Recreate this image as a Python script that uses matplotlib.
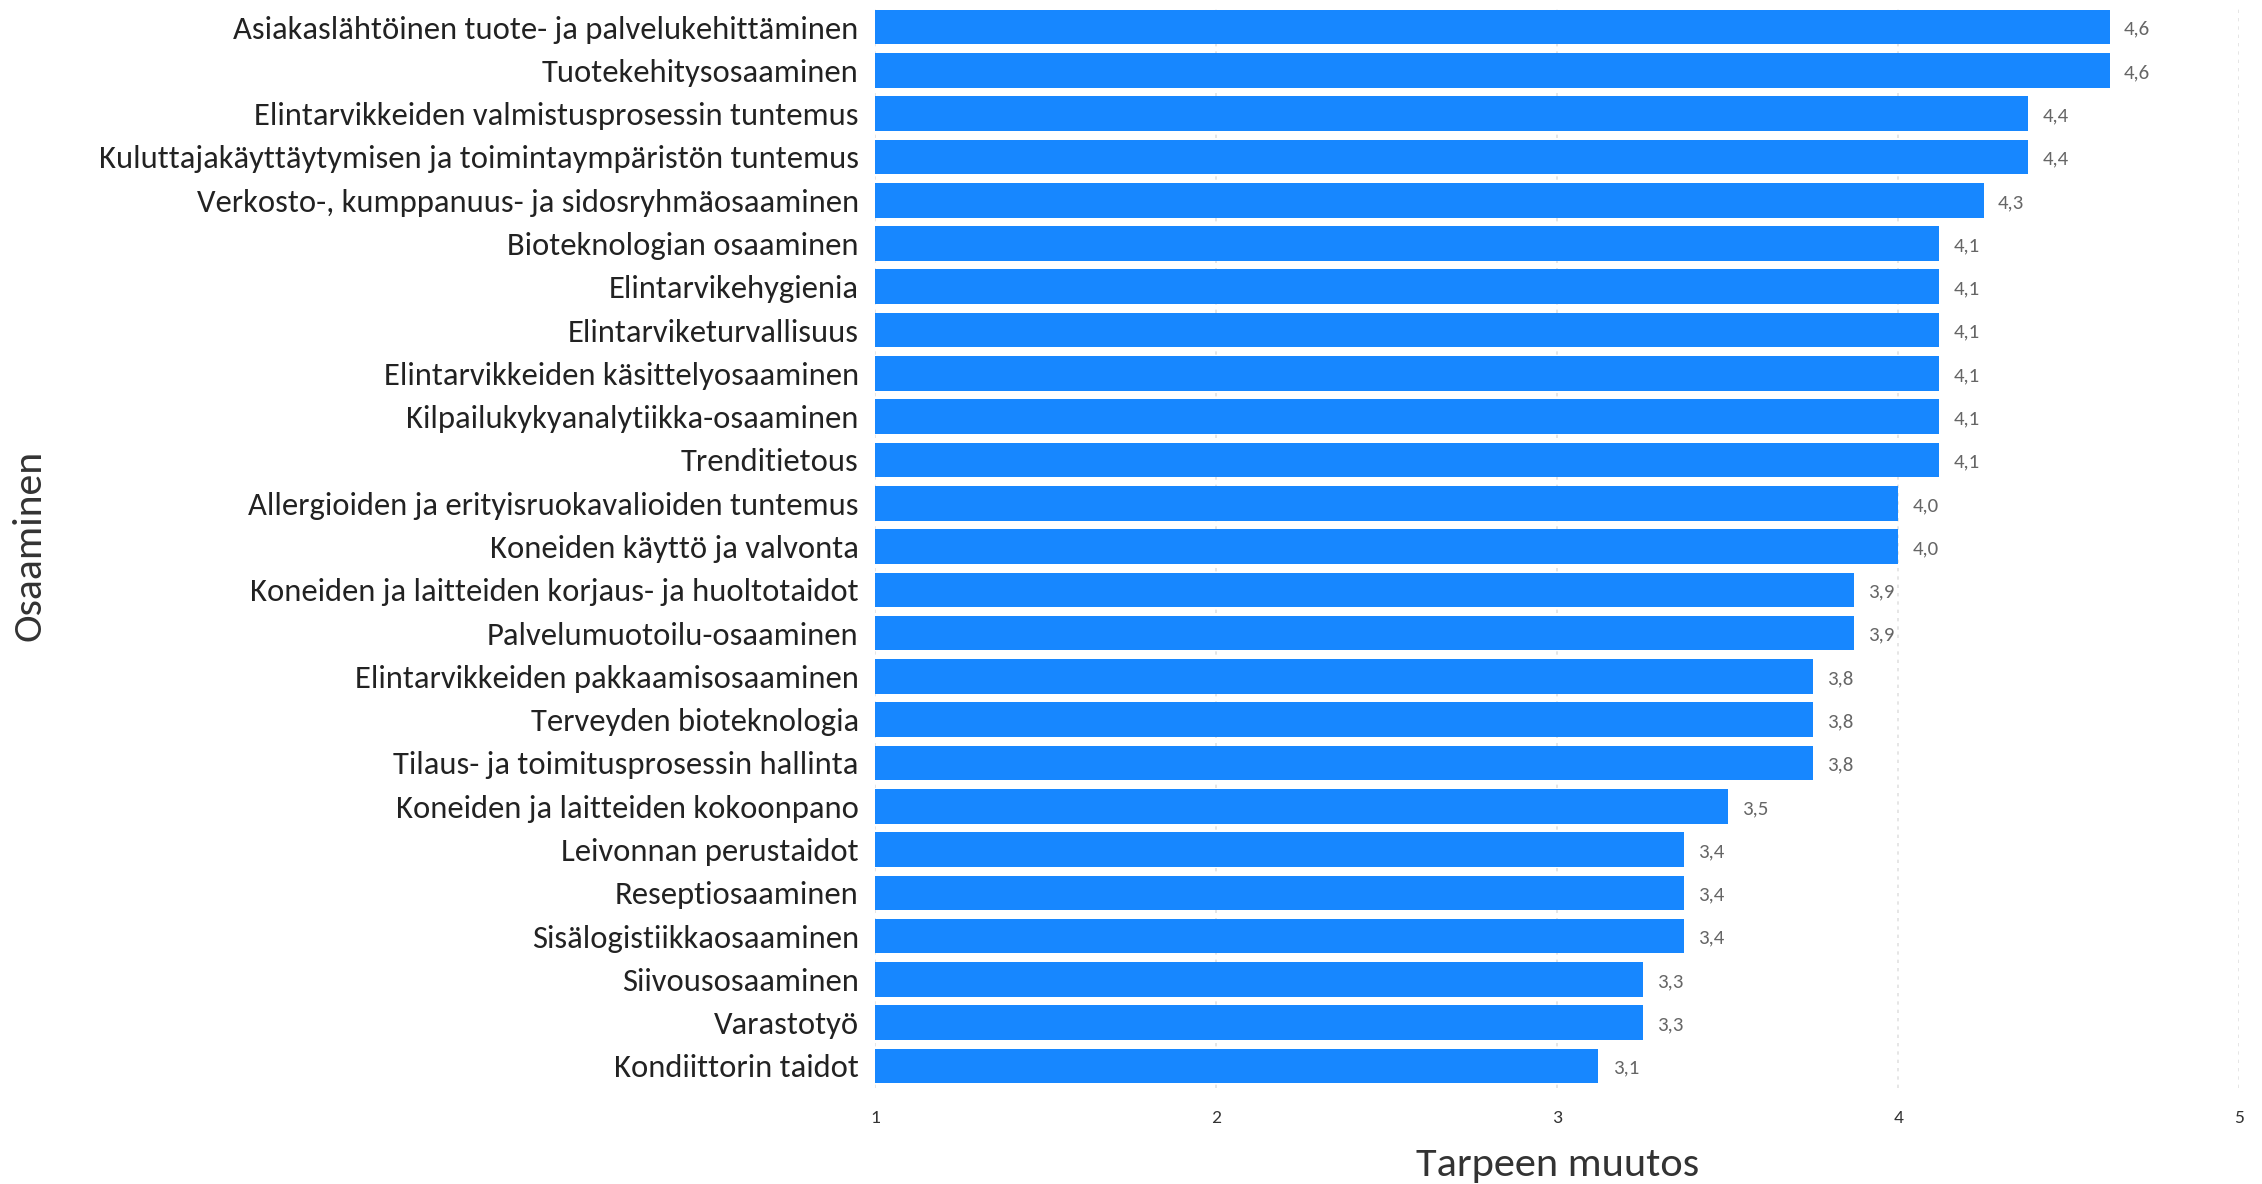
import matplotlib
matplotlib.use("Agg")
import matplotlib.pyplot as plt
from matplotlib import font_manager

# Data (top to bottom)
skills = [
    "Asiakaslähtöinen tuote- ja palvelukehittäminen",
    "Tuotekehitysosaaminen",
    "Elintarvikkeiden valmistusprosessin tuntemus",
    "Kuluttajakäyttäytymisen ja toimintaympäristön tuntemus",
    "Verkosto-, kumppanuus- ja sidosryhmäosaaminen",
    "Bioteknologian osaaminen",
    "Elintarvikehygienia",
    "Elintarviketurvallisuus",
    "Elintarvikkeiden käsittelyosaaminen",
    "Kilpailukykyanalytiikka-osaaminen",
    "Trenditietous",
    "Allergioiden ja erityisruokavalioiden tuntemus",
    "Koneiden käyttö ja valvonta",
    "Koneiden ja laitteiden korjaus- ja huoltotaidot",
    "Palvelumuotoilu-osaaminen",
    "Elintarvikkeiden pakkaamisosaaminen",
    "Terveyden bioteknologia",
    "Tilaus- ja toimitusprosessin hallinta",
    "Koneiden ja laitteiden kokoonpano",
    "Leivonnan perustaidot",
    "Reseptiosaaminen",
    "Sisälogistiikkaosaaminen",
    "Siivousosaaminen",
    "Varastotyö",
    "Kondiittorin taidot",
]
# bar lengths
values = [4.62, 4.62, 4.38, 4.38, 4.25, 4.12, 4.12, 4.12, 4.12, 4.12, 4.12,
          4.0, 4.0, 3.87, 3.87, 3.75, 3.75, 3.75, 3.5, 3.37, 3.37, 3.37,
          3.25, 3.25, 3.12]
# labels printed next to the bars
value_labels = ["4,6", "4,6", "4,4", "4,4", "4,3", "4,1", "4,1", "4,1", "4,1",
                "4,1", "4,1", "4,0", "4,0", "3,9", "3,9", "3,8", "3,8", "3,8",
                "3,5", "3,4", "3,4", "3,4", "3,3", "3,3", "3,1"]
x_ticks = [1, 2, 3, 4, 5]

# pick a font close to Calibri if available
available = {f.name for f in font_manager.fontManager.ttflist}
font = "DejaVu Sans"
for cand in ["Carlito", "Liberation Sans Narrow", "Open Sans", "Noto Sans"]:
    if cand in available:
        font = cand
        break
plt.rcParams["font.family"] = [font, "DejaVu Sans"]

fig = plt.figure(figsize=(22.62, 11.84), dpi=100)
ax = fig.add_axes([0.387, 0.0814, 0.603, 0.914])

ypos = list(range(len(skills)))
widths = [v - 1 for v in values]
ax.barh(ypos, widths, left=1, height=0.8, color="#1787FF", zorder=2)

for y, v, lab in zip(ypos, values, value_labels):
    ax.text(v + 0.042, y + 0.05, lab, va="center", ha="left",
            fontsize=15, color="#666666")

ax.set_xlim(1, 5)
ax.set_ylim(len(skills) - 0.5, -0.5)
ax.set_yticks(ypos)
ax.set_yticklabels(skills, fontsize=23.5, color="#222222")
ax.set_xticks(x_ticks)
ax.set_xticklabels([str(t) for t in x_ticks], fontsize=14, color="#333333")
ax.tick_params(axis="y", length=0, pad=12)
ax.tick_params(axis="x", length=0, pad=16)

ax.grid(axis="x", color="#e2e2e2", linestyle=(0, (2, 3)), linewidth=1.2, zorder=0)
for s in ax.spines.values():
    s.set_visible(False)

ax.set_xlabel("Tarpeen muutos", fontsize=30.5, color="#333333", labelpad=15)
fig.text(30 / 2262, 0.539, "Osaaminen", rotation=90, fontsize=30,
         color="#333333", ha="center", va="center")

fig.savefig("out.png", dpi=100)
